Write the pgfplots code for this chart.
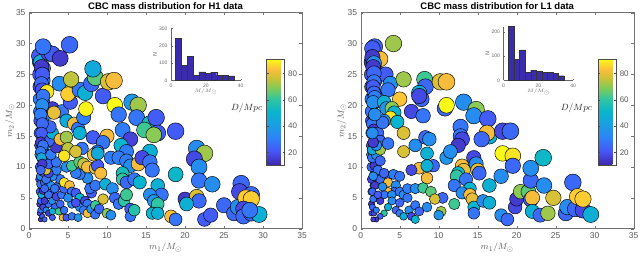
\documentclass[border=0pt]{standalone}
\usepackage{fontspec}
\setmainfont{Liberation Sans}
\usepackage{pgfplots}
\usepackage{pgfplotstable}
\pgfplotsset{compat=1.18}
\definecolor{histblue}{RGB}{58,44,172}
\pgfplotsset{colormap={parula}{
rgb(0pt)=(0.2422,0.1504,0.6603)
rgb(12.5pt)=(0.2780,0.3300,0.9650)
rgb(25pt)=(0.1800,0.5000,0.9800)
rgb(37.5pt)=(0.1100,0.6200,0.8900)
rgb(50pt)=(0.0300,0.7100,0.8100)
rgb(62.5pt)=(0.2000,0.7750,0.6200)
rgb(72pt)=(0.4800,0.8000,0.3600)
rgb(82pt)=(0.8000,0.7600,0.2100)
rgb(90pt)=(0.9900,0.7400,0.2400)
rgb(100pt)=(0.9769,0.9839,0.0805)
}}
\pgfplotstableread{
m1 m2 D
1.4 2.5 20
1.8 3.0 25
1.4 4.0 15
1.8 5.0 30
1.4 6.0 22
1.7 7.0 35
1.4 8.0 18
1.8 9.0 28
1.4 10.0 25
1.8 11.0 20
1.4 12.0 40
1.8 12.8 30
1.4 13.5 22
1.8 14.5 18
1.4 15.5 30
1.8 16.5 25
1.4 17.5 20
1.8 18.0 35
1.4 19.0 28
1.8 20.5 22
1.4 21.0 30
1.8 22.0 25
1.4 23.0 18
1.8 24.0 28
1.4 25.0 22
1.8 26.0 35
1.4 27.0 15
1.5 1.5 15
1.7 2.0 20
2.0 1.5 25
1.5 3.0 28
1.8 3.5 18
1.5 4.5 25
2.2 3.0 35
1.6 5.5 45
1.8 6.2 15
1.5 7.2 28
2.0 7.5 25
1.5 8.5 35
1.8 9.2 22
2.5 4.0 28
3.0 4.5 35
2.8 6.0 25
3.5 5.2 18
3.8 7.0 28
4.0 8.0 28
3.0 8.5 35
3.5 9.5 30
2.5 2.5 15
3.0 1.8 22
3.3 3.5 25
3.0 2.8 50
3.8 2.8 62
4.3 1.8 82
4.8 1.8 22
5.5 2.0 28
4.0 4.0 25
4.5 3.0 28
5.5 4.0 35
6.3 1.8 38
6.5 3.5 35
2.0 4.5 15
2.5 5.5 28
2.8 7.0 35
2.0 6.5 25
2.2 8.0 28
2.5 9.0 18
3.3 6.5 28
4.2 5.5 28
4.5 6.5 25
4.5 7.5 88
5.2 7.0 82
5.5 6.0 28
5.0 5.0 35
6.0 5.8 22
6.5 5.0 50
6.0 4.2 20
7.2 4.5 18
7.5 4.0 28
7.0 3.0 30
7.5 2.5 82
8.0 3.2 35
8.5 2.3 28
8.5 3.8 62
9.0 3.2 25
9.5 4.8 78
10.0 2.5 70
10.5 2.2 35
8.0 5.8 22
7.8 6.5 28
8.5 7.0 28
7.5 8.2 35
6.5 8.8 30
6.0 9.0 30
4.8 10.0 35
5.5 10.2 62
6.5 10.8 65
7.0 10.5 75
7.5 10.0 82
8.5 9.8 78
8.8 10.2 22
9.2 9.0 82
9.8 7.2 48
10.7 6.5 35
11.0 5.0 25
11.5 4.0 28
12.2 4.5 60
12.5 5.5 62
13.0 3.2 22
13.0 2.0 28
13.5 3.0 58
2.2 9.5 78
2.5 10.5 25
3.5 10.8 28
2.8 12.0 30
2.0 13.5 35
3.5 13.2 15
2.5 14.2 25
3.0 15.5 48
2.7 16.5 25
2.6 18.8 35
3.0 19.5 15
4.2 19.0 28
3.2 18.8 80
4.8 17.5 45
5.8 17.0 82
6.3 16.2 28
6.5 15.5 48
4.0 14.5 82
4.8 14.8 72
6.8 13.0 28
5.0 13.0 75
4.5 11.8 88
6.0 12.5 78
5.3 20.5 22
7.0 18.0 30
7.3 19.4 90
3.9 23.5 35
5.5 22.5 72
5.0 21.8 85
6.5 22.5 28
7.2 22.0 48
5.4 24.2 75
8.0 23.5 25
8.5 24.5 65
8.2 25.9 45
9.5 21.5 22
10.2 23.8 78
10.9 24.0 82
11.0 20.0 92
11.5 18.5 28
12.0 16.0 30
13.2 20.5 38
14.0 20.0 72
13.8 18.0 28
15.5 17.0 55
16.3 18.0 22
14.8 16.0 62
16.5 15.5 22
16.0 15.2 70
15.5 12.5 48
13.0 14.5 17
11.8 13.5 50
12.5 12.5 30
10.0 15.0 82
8.2 14.8 22
9.5 14.0 28
8.8 12.5 28
8.3 12.0 82
8.8 12.2 45
10.5 11.5 30
11.5 11.5 30
12.5 11.0 30
13.0 10.2 35
14.0 10.5 82
14.5 11.5 18
15.5 10.8 28
15.8 9.5 28
12.0 9.0 55
12.0 8.0 60
12.5 7.5 25
13.5 8.0 28
14.2 7.5 50
16.5 7.0 48
17.0 5.5 28
15.5 5.5 35
16.0 4.5 38
16.5 4.0 60
15.8 2.5 50
16.5 2.5 48
1.3 28.0 22
1.5 27.0 45
2.5 28.5 18
3.0 28.3 22
4.0 27.6 15
5.2 29.8 25
1.8 29.5 28
1.6 26.2 15
1.7 25.0 22
1.6 23.5 25
1.7 22.5 20
2.3 22.2 88
1.8 21.5 28
1.7 20.0 35
1.5 18.5 30
1.7 17.0 25
1.6 15.5 22
1.5 14.0 15
1.8 13.5 28
1.5 12.5 30
1.6 11.5 45
1.7 10.5 15
1.5 9.5 25
18.8 15.8 22
21.5 13.0 35
22.5 12.2 72
21.2 11.3 18
21.8 10.0 35
21.8 7.8 28
23.5 7.2 35
18.8 8.8 52
20.0 4.8 15
21.5 5.2 78
21.8 4.5 25
20.2 4.0 48
18.2 2.0 82
18.8 1.5 28
22.5 1.5 22
23.3 2.2 22
25.0 3.8 25
26.3 2.5 25
26.8 3.5 35
27.2 7.3 25
27.0 6.0 18
28.5 5.5 25
27.8 5.0 85
28.5 4.8 85
27.5 3.2 18
27.5 2.0 25
28.5 2.5 25
29.5 2.3 48
28.3 3.0 28
}\tableH
\pgfplotstableread{
m1 m2 D
1.4 2.5 18
1.8 3.0 25
1.4 4.0 15
1.8 5.0 28
1.4 6.0 22
1.7 7.0 35
1.4 8.0 18
1.8 9.0 28
1.4 10.0 25
1.8 11.0 20
1.4 12.0 40
1.8 12.8 30
1.4 13.5 22
1.8 14.5 18
1.4 15.5 30
1.8 16.5 25
1.4 17.5 20
1.8 18.0 35
1.4 19.0 28
1.8 20.5 22
1.4 21.0 30
1.8 22.0 25
1.4 23.0 18
1.8 24.0 28
1.4 25.0 22
1.8 26.0 35
1.4 27.0 15
1.8 10.2 15
2.2 9.5 28
3.5 8.5 28
2.5 8.0 25
1.8 7.0 15
3.5 7.5 82
4.5 7.0 35
4.3 6.0 25
3.5 6.0 82
3.0 5.5 28
4.0 5.5 35
5.0 6.0 28
5.5 5.5 35
6.0 5.0 28
2.5 4.5 15
4.0 4.5 35
3.5 3.5 48
4.5 3.0 25
3.0 2.5 60
2.5 2.0 25
2.0 1.5 15
1.6 1.5 15
1.7 2.5 18
1.5 3.5 25
1.6 4.8 28
1.5 6.0 25
1.6 8.5 35
5.0 2.5 28
5.5 2.0 48
2.0 3.0 30
2.2 5.5 22
2.8 6.8 35
3.0 9.0 25
4.2 8.8 30
5.0 4.2 25
6.2 3.0 35
6.0 6.5 30
1.5 11.5 28
2.0 12.0 35
1.5 12.8 45
2.5 11.0 25
1.5 17.0 28
1.7 16.0 15
2.2 15.5 25
2.5 14.2 25
1.8 29.5 25
1.5 29.2 22
4.2 30.0 72
2.5 27.5 82
1.5 27.8 15
1.7 26.8 35
1.6 26.2 15
3.2 25.0 22
1.7 25.2 25
1.7 23.8 28
1.6 23.0 22
1.7 22.0 25
1.8 21.3 30
1.6 20.5 35
3.8 23.5 35
3.5 22.5 28
5.5 24.2 72
8.2 24.2 62
8.3 23.0 25
10.2 23.8 78
11.0 23.8 82
7.5 22.0 48
7.8 21.0 25
7.5 21.5 18
5.0 21.0 84
3.0 20.5 48
3.3 19.5 38
4.0 19.5 70
4.3 18.8 50
3.8 18.0 88
3.0 17.5 35
2.8 17.2 28
1.8 18.5 35
4.7 17.3 50
6.5 19.0 18
8.0 18.3 28
5.5 15.5 78
10.8 19.5 25
11.0 20.0 92
13.2 20.5 35
14.8 19.3 70
14.5 18.3 35
16.3 17.8 22
16.5 15.0 48
16.2 15.5 82
15.5 14.5 25
18.2 15.8 18
19.2 15.8 25
18.2 12.2 92
19.5 11.8 88
19.5 10.2 25
12.8 16.5 28
12.8 15.0 28
13.0 14.5 18
12.5 13.5 15
7.0 13.5 35
8.3 14.8 25
8.8 14.5 35
8.5 12.2 48
5.5 12.5 78
2.5 12.8 72
2.0 13.5 35
1.6 14.0 15
1.5 15.5 35
3.5 13.8 28
11.0 11.5 38
11.5 12.5 35
13.0 10.2 82
13.2 9.5 80
14.5 11.5 18
14.8 10.5 35
15.0 9.5 80
15.2 9.0 25
12.5 9.0 52
12.3 8.5 60
12.0 7.0 28
13.5 8.0 28
14.0 6.5 50
16.5 7.0 48
18.0 8.5 35
9.3 10.2 25
7.5 9.8 82
8.5 10.2 48
8.5 8.2 82
6.5 9.5 18
5.0 8.5 28
7.0 6.5 35
8.0 6.6 62
9.0 6.0 65
10.5 5.0 25
9.5 4.8 78
10.3 2.8 72
10.0 2.2 38
8.5 3.5 35
7.0 3.8 28
7.5 2.8 25
6.5 2.0 18
7.0 1.5 50
12.0 4.0 62
13.0 5.8 35
14.0 5.5 82
14.3 4.8 80
14.5 3.5 50
14.5 2.5 28
15.7 4.5 35
16.5 4.2 48
18.0 2.2 35
18.8 1.5 25
19.8 3.5 18
20.0 4.8 15
20.5 6.0 70
21.5 6.0 65
21.8 4.7 25
22.0 5.0 82
21.8 7.8 25
21.8 9.8 35
23.4 11.5 52
23.5 7.0 35
22.0 2.8 48
23.0 2.2 25
24.0 2.5 72
24.7 5.0 78
26.3 2.5 25
26.5 3.5 35
27.2 7.5 25
27.5 3.2 25
28.5 3.0 18
27.8 5.2 85
28.5 4.8 85
29.5 2.3 48
}\tableL
\pgfplotsset{
  mainax/.style={
    anchor=south west, scale only axis, width=273pt, height=216pt,
    xmin=0, xmax=35, ymin=0, ymax=35,
    xtick={0,5,...,35}, ytick={0,5,...,35},
    tick align=inside, major tick length=2.7pt,
    axis line style={black!55}, tick style={black!55},
    /pgf/number format/assume math mode=true,
    tick label style={font=\fontsize{8.5}{9}\selectfont, text=black!65},
    label style={font=\fontsize{9.5}{10}\selectfont, text=black!65},
    xlabel={$m_1/M_\odot$}, ylabel={$m_2/M_\odot$},
    xlabel style={at={(axis description cs:0.5,-0.088)}, anchor=center},
    ylabel style={at={(axis description cs:-0.0696,0.5)}, anchor=center},
    title style={at={(axis description cs:0.5,1)}, anchor=base, yshift=-2.4pt, font=\bfseries\fontsize{9.5}{10}\selectfont},
    colormap name=parula, point meta min=10.4, point meta max=90.9,
    colorbar,
    colorbar style={
      at={(parent axis.south west)}, anchor=south west, xshift=229pt, yshift=63.7pt,
      width=18pt, height=106pt, scale only axis,
      ytick={20,40,60,80},
      /pgf/number format/assume math mode=true,
      yticklabel style={font=\fontsize{8}{8}\selectfont, text=black!65},
      major tick length=2pt, axis line style={black!70}, tick style={black!70},
    },
  },
  bub/.style={scatter, only marks, mark=*, scatter src=explicit,
    scatter/use mapped color={draw=black, fill=mapped color},
    visualization depends on={1.42*sqrt(\thisrow{m1}+\thisrow{m2}) \as \msize},
    scatter/@pre marker code/.append style={/tikz/mark size=\msize},
    mark options={line width=0.45pt}},
  histax/.style={
    anchor=south west, scale only axis, width=69.7pt, height=52pt,
    xmin=0, xmax=40, ymin=0, xtick={0,20,40},
    axis x line*=bottom, axis y line*=left,
    tick align=inside, major tick length=1.5pt,
    axis line style={black!60}, tick style={black!60},
    /pgf/number format/assume math mode=true,
    tick label style={font=\fontsize{5}{5}\selectfont, text=black!60},
    label style={font=\fontsize{5.5}{6}\selectfont, text=black!60},
    xlabel={$M/M_\odot$}, ylabel={N},
    xlabel style={at={(axis description cs:0.5,-0.22)}, anchor=center},
    ylabel style={at={(axis description cs:-0.23,0.5)}, anchor=center},
  },
}
\begin{document}
\begin{tikzpicture}
\useasboundingbox (0,0) rectangle (640pt,256pt);
\begin{axis}[mainax, at={(29pt,27.3pt)}, title={CBC mass distribution for H1 data}]
\addplot[bub] table[x=m1,y=m2,meta=D] \tableH;
\node[font=\fontsize{9}{9}\selectfont, text=black!85] at (axis description cs:0.797,0.559) {$D/Mpc$};
\end{axis}
\begin{axis}[mainax, at={(360.7pt,27.3pt)}, title={CBC mass distribution for L1 data}]
\addplot[bub] table[x=m1,y=m2,meta=D] \tableL;
\node[font=\fontsize{9}{9}\selectfont, text=black!85] at (axis description cs:0.79,0.559) {$D/Mpc$};
\end{axis}
\begin{axis}[histax, at={(171pt,175.7pt)}, ymax=300, ytick={0,100,200,300}]
\addplot[ybar interval, fill=histblue, draw=black!80, line width=0.3pt] coordinates {(2.4,243) (5.8,87) (9.2,138) (12.6,30) (16,49) (19.4,40) (22.8,47) (26.2,28) (29.6,28) (33,25) (36.4,0)};
\end{axis}
\begin{axis}[histax, at={(503.5pt,175.7pt)}, height=53.7pt, ymax=221, ytick={0,100,200}]
\addplot[ybar interval, fill=histblue, draw=black!80, line width=0.3pt] coordinates {(2.8,221) (6,86) (9.2,125) (12.4,32) (15.6,42) (18.8,36) (22,33) (25.2,32) (28.4,29) (31.6,19) (34.8,0)};
\end{axis}
\end{tikzpicture}
\end{document}
